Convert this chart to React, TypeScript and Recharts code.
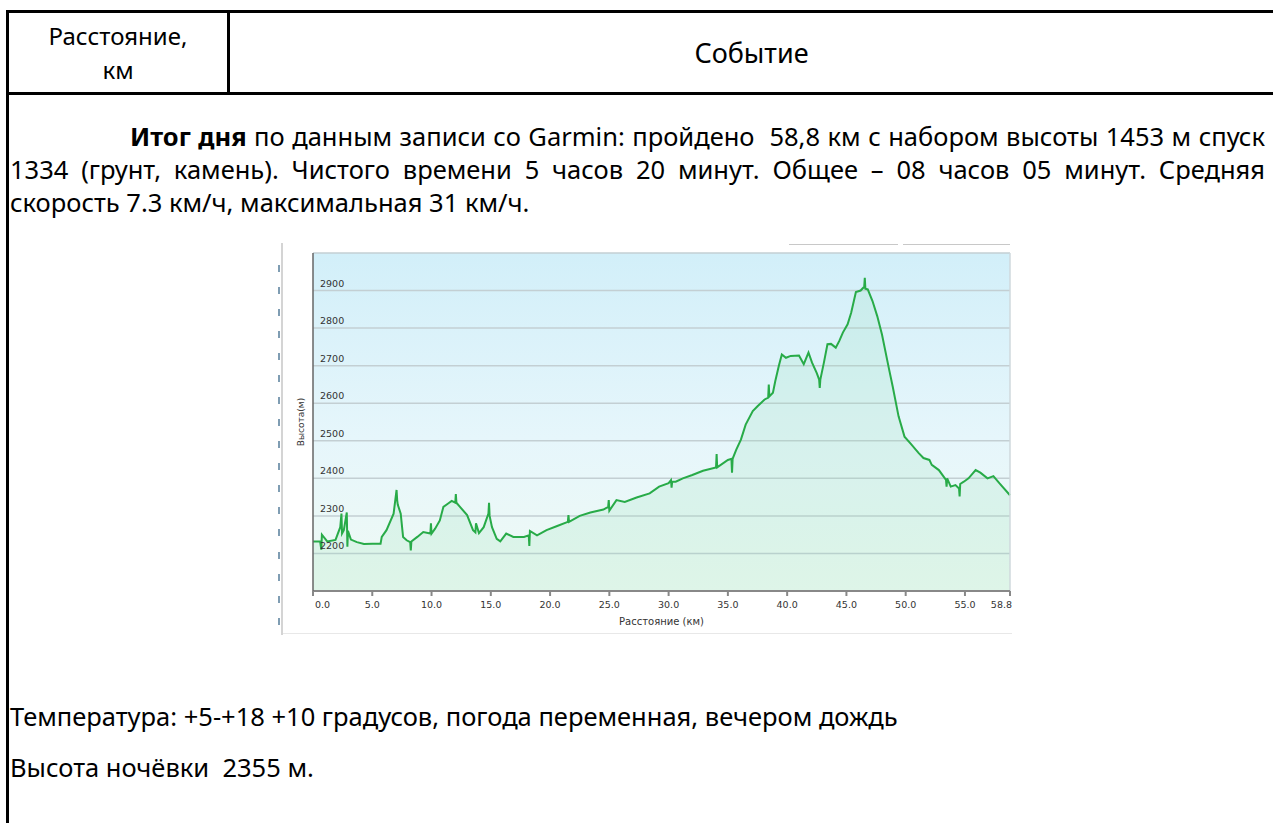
import React from "react";
import {
  Area,
  AreaChart,
  CartesianGrid,
  ReferenceLine,
  XAxis,
  YAxis,
} from "recharts";

// elevation profile
const distanceKm = [
  0, 0.6, 0.7, 0.75, 1.2, 1.9, 2.3, 2.4, 2.45, 2.6, 2.85, 2.9, 2.95, 3.2, 3.7, 4.3, 5.0,
  5.7, 5.8, 6.2, 6.8, 7.05, 7.1, 7.15, 7.4, 7.6, 7.9, 8.2, 8.25, 8.3, 8.8, 9.3, 9.9,
  9.95, 10.0, 10.3, 10.7, 11.0, 11.4, 11.7, 12.0, 12.05, 12.1, 12.4, 13.0, 13.5, 13.7,
  13.75, 14.0, 14.4, 14.8, 14.85, 14.9, 15.1, 15.5, 15.8, 16.3, 16.9, 17.8, 18.2,
  18.25, 18.3, 18.9, 19.7, 20.6, 21.5, 21.55, 21.6, 22.5, 23.4, 24.5, 24.9, 24.95,
  25.0, 25.6, 26.3, 27.3, 28.4, 29.2, 30.0, 30.2, 30.25, 30.3, 30.6, 31.2, 32.0, 32.9,
  34.0, 34.05, 34.1, 35.0, 35.3, 35.35, 35.4, 35.7, 36.1, 36.5, 37.1, 37.5, 38.1,
  38.4, 38.45, 38.5, 38.8, 39.0, 39.3, 39.55, 39.9, 40.3, 41.0, 41.4, 41.8, 42.1,
  42.5, 42.7, 42.75, 42.8, 43.1, 43.4, 43.7, 44.1, 44.4, 44.7, 45.1, 45.4, 45.8, 46.2,
  46.5, 46.55, 46.6, 46.8, 47.2, 47.6, 48.0, 48.6, 48.9, 49.4, 49.9, 50.4, 51.1,
  51.5, 52.0, 52.2, 52.8, 53.4, 53.45, 53.5, 53.8, 54.2, 54.5, 54.55, 54.6, 54.9,
  55.3, 55.9, 56.3, 56.9, 57.4, 57.9, 58.8,
];
const elevationM = [
  2232, 2232, 2210, 2250, 2232, 2236, 2270, 2306, 2253, 2262, 2309, 2218, 2260, 2237,
  2230, 2225, 2226, 2226, 2244, 2262, 2306, 2369, 2342, 2330, 2306, 2244, 2235, 2230,
  2208, 2232, 2244, 2257, 2253, 2280, 2253, 2266, 2288, 2324, 2333, 2340, 2335, 2358,
  2335, 2324, 2302, 2262, 2256, 2280, 2254, 2270, 2306, 2335, 2300, 2270, 2239, 2232,
  2253, 2244, 2244, 2248, 2220, 2260, 2248, 2262, 2273, 2284, 2302, 2284, 2300, 2309,
  2317, 2324, 2342, 2314, 2342, 2337, 2349, 2360, 2378, 2387, 2395, 2375, 2391, 2391,
  2400, 2409, 2420, 2429, 2465, 2429, 2449, 2452, 2415, 2452, 2476, 2503, 2543, 2579,
  2592, 2610, 2615, 2650, 2618, 2628, 2659, 2700, 2730, 2721, 2726, 2727, 2704, 2735,
  2708, 2680, 2663, 2641, 2663, 2708, 2757, 2758, 2748, 2766, 2788, 2810, 2841, 2896,
  2900, 2910, 2934, 2905, 2903, 2872, 2832, 2783, 2690, 2645, 2565, 2511, 2493, 2467,
  2454, 2449, 2436, 2422, 2396, 2378, 2400, 2378, 2382, 2373, 2352, 2385, 2391, 2400,
  2422, 2415, 2400, 2406, 2387, 2355,
];

const xTicks = [0, 5, 10, 15, 20, 25, 30, 35, 40, 45, 50, 55, 58.8];
const yTicks = [2100, 2200, 2300, 2400, 2500, 2600, 2700, 2800, 2900, 3000];
const yLabelled = [2200, 2300, 2400, 2500, 2600, 2700, 2800, 2900];

const profile = distanceKm.map((d, i) => ({ d, e: elevationM[i] }));

const axisFont = "'DejaVu Sans', Verdana, sans-serif";
const docFont = "'Noto Sans', 'Open Sans', sans-serif";

const YTick = (props: any) => {
  const { x, y, payload } = props;
  if (!yLabelled.includes(payload.value)) return null;
  return (
    <text x={x + 7} y={y - 4} fontSize={9.5} fill="#333" fontFamily={axisFont} textAnchor="start">
      {payload.value}
    </text>
  );
};

const XTick = (props: any) => {
  const { x, y, payload, index } = props;
  let anchor = "middle";
  let dx = 0;
  if (index === 0) {
    anchor = "start";
    dx = 2;
  } else if (payload.value === 58.8) {
    anchor = "end";
    dx = 2;
  }
  return (
    <text x={x + dx} y={y + 10} textAnchor={anchor} fontSize={9.5} fill="#333" fontFamily={axisFont}>
      {payload.value.toFixed(1)}
    </text>
  );
};

function ElevationChart() {
  return (
    <AreaChart
      width={740}
      height={395}
      data={profile}
      margin={{ top: 10, right: 7, bottom: 0, left: 35 }}
    >
      <defs>
        <linearGradient id="plotBg" x1="0" y1="0" x2="0" y2="1">
          <stop offset="0%" stopColor="#d2eff9" />
          <stop offset="55%" stopColor="#e6f6fb" />
          <stop offset="100%" stopColor="#effaf4" />
        </linearGradient>
      </defs>
      <CartesianGrid vertical={false} stroke="#c3cfd3" strokeWidth={1.5} fill="url(#plotBg)" fillOpacity={1} />
      <XAxis
        type="number"
        dataKey="d"
        domain={[0, 58.8]}
        ticks={xTicks}
        height={47}
        stroke="#888"
        strokeWidth={2}
        tickSize={5}
        tickMargin={2}
        tick={<XTick />}
        interval={0}
        label={{
          content: (p: any) => (
            <text
              x={p.viewBox.x + p.viewBox.width / 2}
              y={p.viewBox.y + 34}
              textAnchor="middle"
              fontSize={10}
              fill="#333"
              fontFamily={axisFont}
            >
              Расстояние  (км)
            </text>
          ),
        }}
      />
      <YAxis
        type="number"
        domain={[2100, 3000]}
        ticks={yTicks}
        width={1}
        stroke="#666"
        strokeWidth={1.5}
        tickLine={false}
        tickSize={0}
        tickMargin={0}
        tick={<YTick />}
        interval={0}
        label={{
          content: (p: any) => {
            const cx = p.viewBox.x - 8;
            const cy = p.viewBox.y + p.viewBox.height / 2;
            return (
              <text
                x={cx}
                y={cy}
                transform={`rotate(-90 ${cx} ${cy})`}
                textAnchor="middle"
                fontSize={9}
                fill="#333"
                fontFamily={axisFont}
              >
                Высота(м)
              </text>
            );
          },
        }}
      />
      <ReferenceLine x={58.8} stroke="#cfd8dc" strokeWidth={1.5} />
      <Area
        type="linear"
        dataKey="e"
        stroke="#28ab48"
        strokeWidth={2}
        fill="#8fe0b0"
        fillOpacity={0.18}
        isAnimationActive={false}
        dot={false}
        activeDot={false}
      />
    </AreaChart>
  );
}

const abs = (s: React.CSSProperties): React.CSSProperties => ({ position: "absolute", ...s });

// little toolbar glyphs on the left edge of the screenshot
const iconTops = [265, 287, 309, 331, 353, 375, 397, 419, 441, 463, 485, 507, 529, 552, 574, 596, 618];

export default function App() {
  return (
    <div
      style={{
        position: "absolute",
        left: 0,
        top: 0,
        width: 1273,
        height: 823,
        background: "#fff",
        overflow: "hidden",
        fontFamily: docFont,
        color: "#000",
      }}
    >
      {/* table borders */}
      <div style={abs({ left: 6, top: 10, width: 1280, height: 3, background: "#000" })} />
      <div style={abs({ left: 6, top: 10, width: 3, height: 830, background: "#000" })} />
      <div style={abs({ left: 227, top: 10, width: 3, height: 85, background: "#000" })} />
      <div style={abs({ left: 6, top: 92, width: 1280, height: 3, background: "#000" })} />

      {/* header cells */}
      <div style={abs({ left: 9, top: 22, width: 218, fontSize: 24, lineHeight: "28px", textAlign: "center" })}>
        Расстояние,
      </div>
      <div style={abs({ left: 9, top: 56, width: 218, fontSize: 24, lineHeight: "28px", textAlign: "center" })}>
        км
      </div>
      <div style={abs({ left: 230, top: 38, width: 1043, fontSize: 27, lineHeight: "30px", textAlign: "center" })}>
        Событие
      </div>

      {/* day summary */}
      <div
        style={abs({
          left: 130,
          top: 120,
          width: 1135,
          fontSize: 25.5,
          lineHeight: "33px",
          textAlign: "justify",
          textAlignLast: "justify",
          whiteSpace: "pre",
        })}
      >
        <b>Итог дня</b> по данным записи со Garmin: пройдено  58,8 км с набором высоты 1453 м спуск
      </div>
      <div
        style={abs({
          left: 10,
          top: 153,
          width: 1255,
          fontSize: 25.5,
          lineHeight: "33px",
          textAlign: "justify",
          textAlignLast: "justify",
        })}
      >
        1334 (грунт, камень). Чистого времени 5 часов 20 минут. Общее – 08 часов 05 минут. Средняя
      </div>
      <div style={abs({ left: 10, top: 186, fontSize: 25.5, lineHeight: "33px", whiteSpace: "nowrap" })}>
        скорость 7.3 км/ч, максимальная 31 км/ч.
      </div>

      {/* screenshot frame bits */}
      <div style={abs({ left: 281, top: 243, width: 2, height: 392, background: "#d4d4d4" })} />
      {iconTops.map((t) => (
        <div key={t} style={abs({ left: 278, top: t, width: 2, height: 7, background: "#7f9db3" })} />
      ))}
      <div style={abs({ left: 283, top: 633, width: 729, height: 1, background: "#e8e8e8" })} />
      <div style={abs({ left: 789, top: 244, width: 109, height: 1, background: "#c8c8c8" })} />
      <div style={abs({ left: 903, top: 244, width: 107, height: 1, background: "#c8c8c8" })} />

      <div style={abs({ left: 277, top: 243 })}>
        <ElevationChart />
      </div>

      <div style={abs({ left: 10, top: 700, fontSize: 25.5, lineHeight: "33px", whiteSpace: "nowrap" })}>
        Температура: +5-+18 +10 градусов, погода переменная, вечером дождь
      </div>
      <div style={abs({ left: 10, top: 751, fontSize: 25.5, lineHeight: "33px", whiteSpace: "pre" })}>
        Высота ночёвки  2355 м.
      </div>
    </div>
  );
}
